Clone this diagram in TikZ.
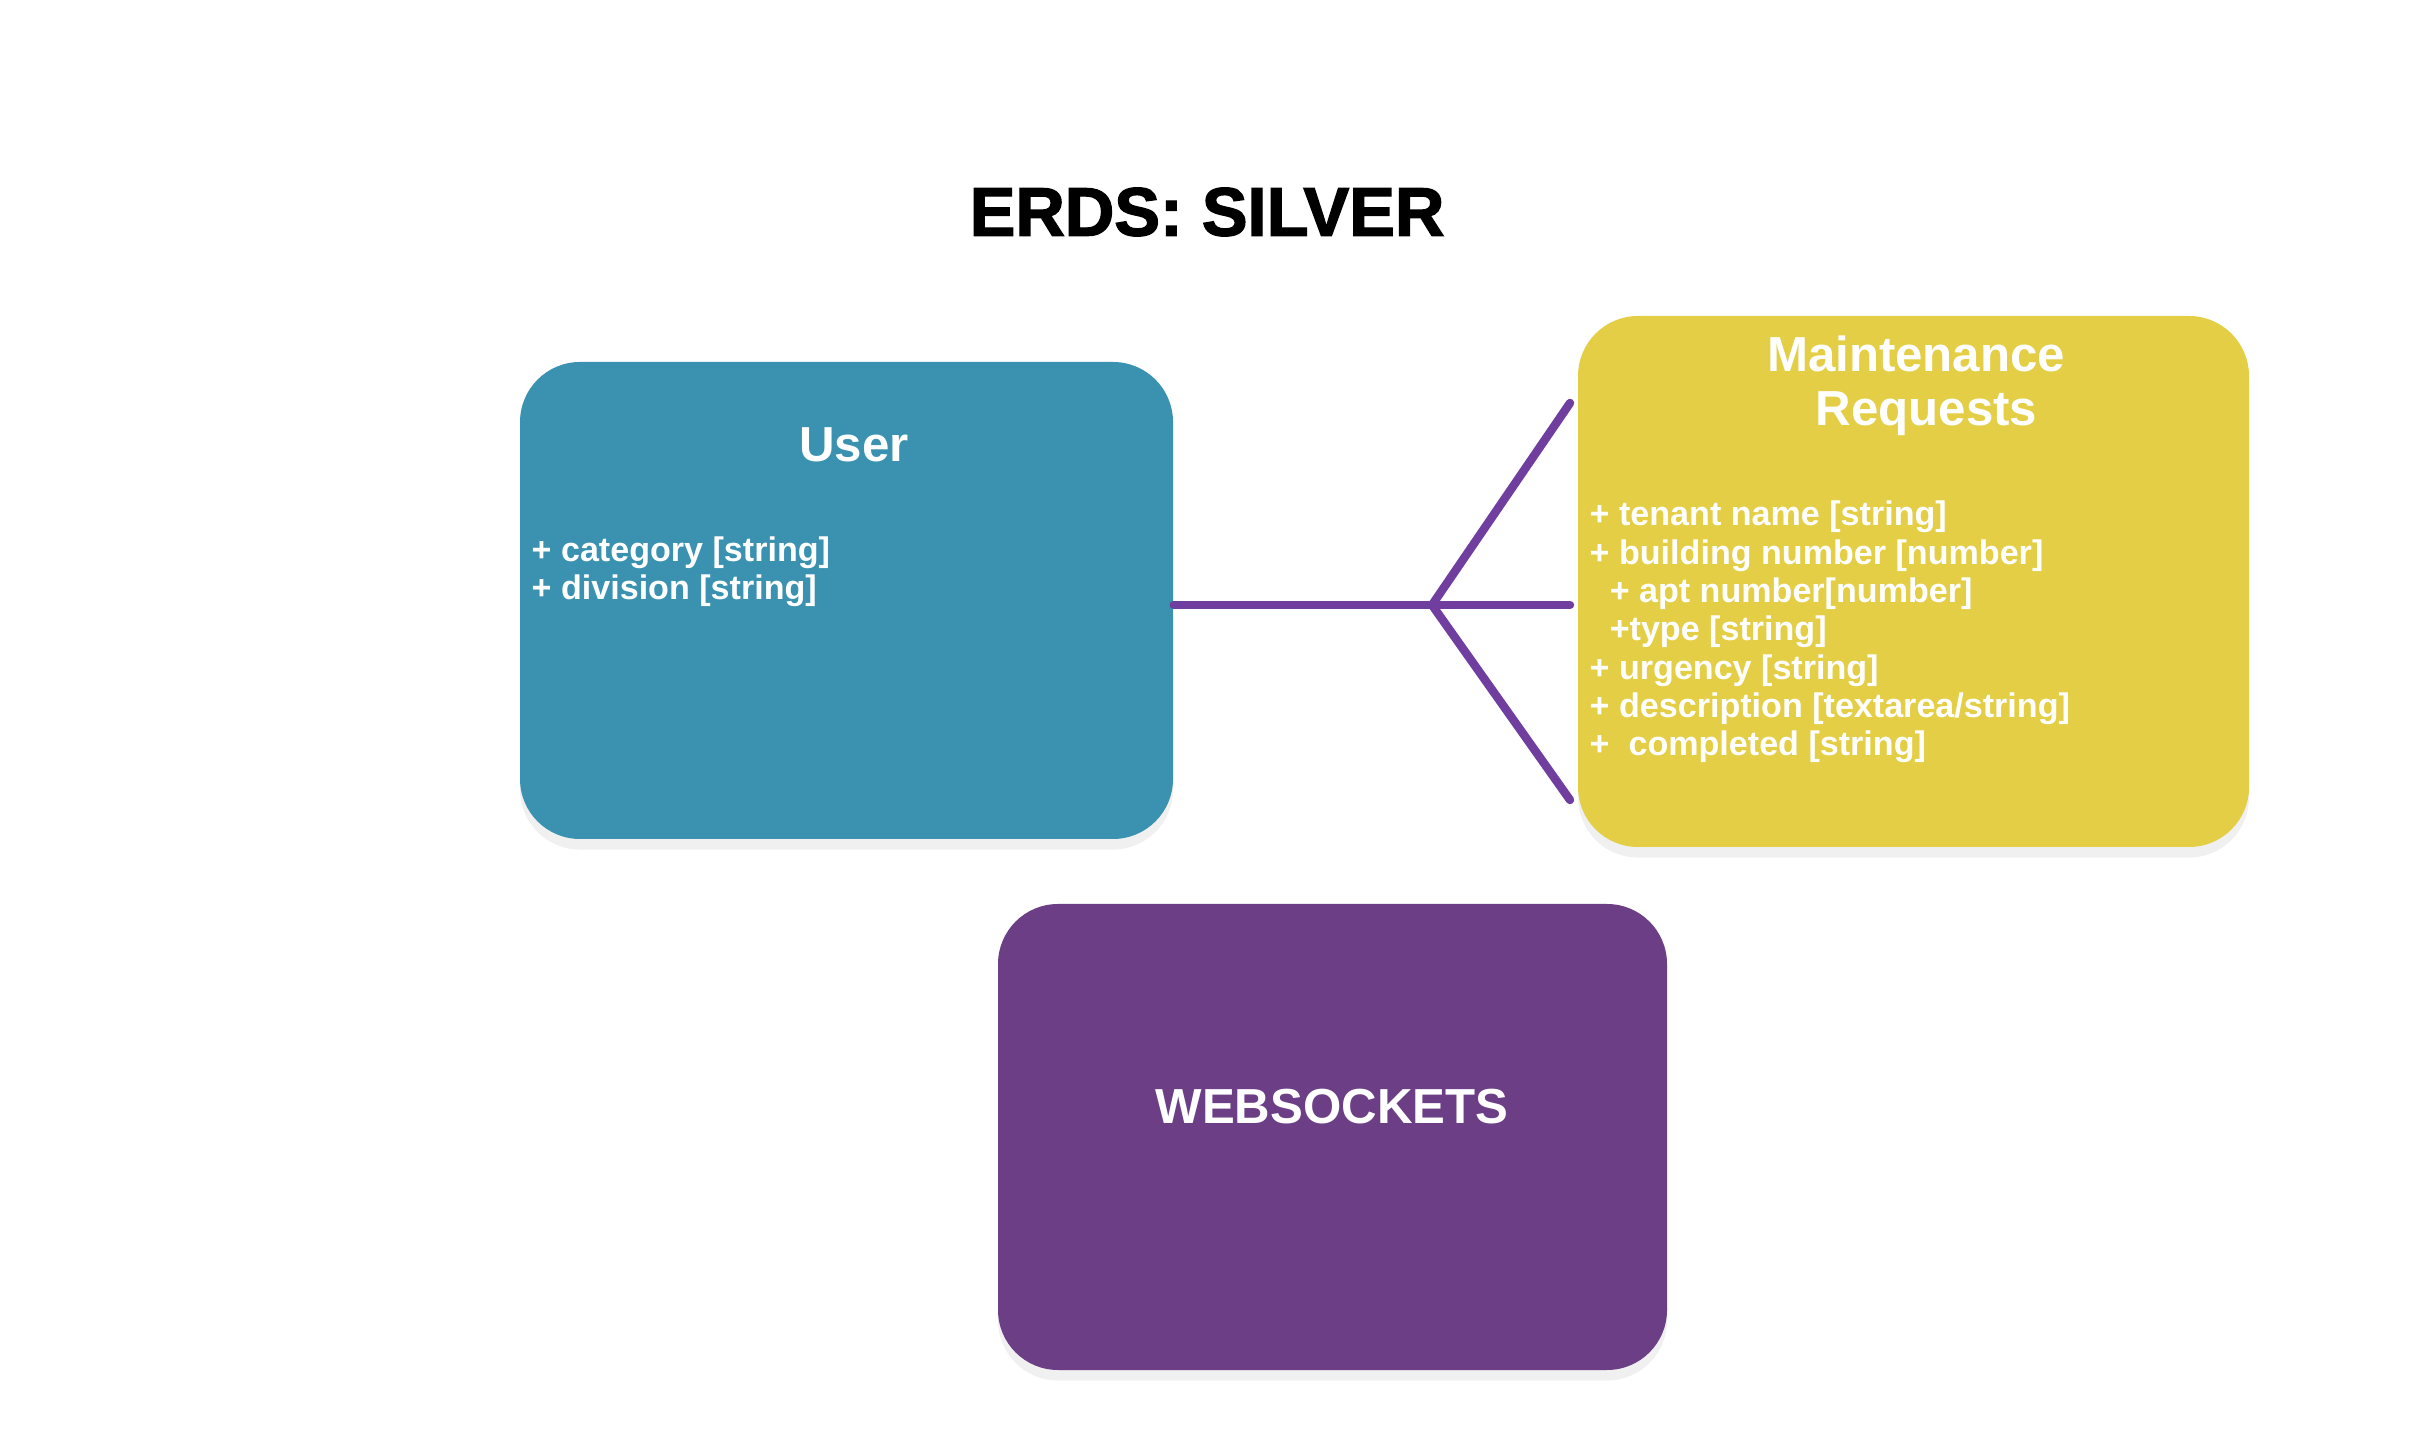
\documentclass[tikz,border=0pt]{standalone}
\usepackage{fontspec}
\setmainfont{Liberation Sans}
\newfontfamily\headfont{Liberation Sans}[BoldFeatures={FakeBold=2}]
\usepackage{tikz}
\usetikzlibrary{positioning, shadows}
\definecolor{UserTeal}{RGB}{58, 146, 176}
\definecolor{ReqYellow}{RGB}{227, 206, 70}
\definecolor{SockPurple}{RGB}{107, 62, 133}
\definecolor{LinkPurple}{RGB}{112, 62, 158}

\tikzset{
  entity/.style={rectangle, rounded corners=0.6cm, inner sep=0pt,
    drop shadow={opacity=0.12, shadow xshift=0pt, shadow yshift=-3pt}},
  entname/.style={text=white, font=\fontsize{14}{15.3}\selectfont\bfseries, align=center, inner sep=0pt},
  attrs/.style={text=white, font=\fontsize{9.7}{10.9}\selectfont\bfseries, align=left, inner sep=0pt, anchor=west},
  link/.style={draw=LinkPurple, line width=2.4pt, line cap=round}
}

\begin{document}
\begin{tikzpicture}
    \useasboundingbox (0,0) rectangle (24.14,14.52);

    % Title
    \node (title) at (12.07,12.40) {\headfont\fontsize{19.5}{22}\selectfont\bfseries ERDS: SILVER};

    % Entities
    \node[entity, fill=UserTeal, minimum width=6.53cm, minimum height=4.77cm] (user) at (8.465,8.515) {};
    \node[entity, fill=ReqYellow, minimum width=6.71cm, minimum height=5.31cm] (req) at (19.135,8.705) {};
    \node[entity, fill=SockPurple, minimum width=6.69cm, minimum height=4.66cm] (sock) at (13.325,3.15) {};

    \node[entname] (username) at (8.54,10.07) {User};
    \node[attrs] (userattrs) at (5.31,8.80) {+ category [string]\\+ division [string]};

    \node[entname] (reqname) at (19.16,10.66) {Maintenance\\\hspace*{6pt}Requests};
    \node[attrs] (reqattrs) at (15.89,8.20) {+ tenant name [string]\\
      + building number [number]\\
      \hspace*{5.7pt}+ apt number[number]\\
      \hspace*{5.7pt}+type [string]\\
      + urgency [string]\\
      + description [textarea/string]\\
      +\ \ completed [string]};

    \node[entname] (sockname) at (13.32,3.45) {WEBSOCKETS};

    % One-to-many link (crow's foot)
    \coordinate (fork) at (14.32,8.47);
    \coordinate (ftop) at (15.70,10.49);
    \coordinate (fmid) at (15.70,8.47);
    \coordinate (fbot) at (15.70,6.52);
    \draw[link] (user.east |- fork) -- (fork) -- (fmid);
    \draw[link] (fork) -- (ftop);
    \draw[link] (fork) -- (fbot);
\end{tikzpicture}
\end{document}
